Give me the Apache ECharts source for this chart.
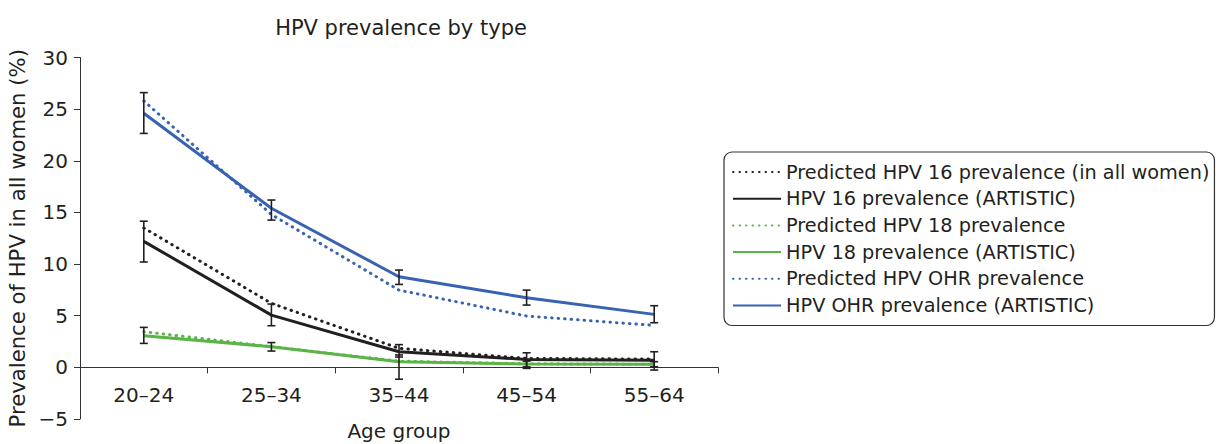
<!DOCTYPE html>
<html><head><meta charset="utf-8">
<script src="https://cdn.jsdelivr.net/npm/echarts@6/dist/echarts.min.js"></script>
<style>html,body{margin:0;padding:0;background:#fff}#c{width:1216px;height:444px}</style>
</head><body><div id="c"></div>
<script>
const categories = ['20–24', '25–34', '35–44', '45–54', '55–64'];
const seriesNames = [
  'Predicted HPV 16 prevalence (in all women)',
  'HPV 16 prevalence (ARTISTIC)',
  'Predicted HPV 18 prevalence',
  'HPV 18 prevalence (ARTISTIC)',
  'Predicted HPV OHR prevalence',
  'HPV OHR prevalence (ARTISTIC)'
];
const pred16 = [13.5, 6.2, 1.84, 0.87, 0.8];
const art16 = [12.2, 5.06, 1.51, 0.77, 0.7];
const art16Low = [10.2, 4.03, 1.0, -0.1, -0.26];
const art16High = [14.15, 6.13, 2.2, 1.41, 1.51];
const pred18 = [3.45, 2.0, 0.6, 0.35, 0.3];
const art18 = [3.06, 2.0, 0.54, 0.32, 0.29];
const art18Low = [2.32, 1.58, -1.15, 0.05, 0.05];
const art18High = [3.87, 2.4, 1.2, 0.6, 0.55];
const predOHR = [25.8, 14.8, 7.48, 4.97, 4.06];
const artOHR = [24.6, 15.4, 8.77, 6.74, 5.13];
const artOHRLow = [22.65, 14.26, 8.03, 6.03, 4.32];
const artOHRHigh = [26.6, 16.2, 9.42, 7.48, 5.97];
const yTicks = {min: -5, max: 30, interval: 5};

const BLACK = '#231f20', GREEN = '#5bb446', BLUE = '#3763b2';
const FONT = 'DejaVu Sans';

function errSeries(low, high) {
  return {
    type: 'custom',
    silent: true,
    z: 5,
    data: low.map((l, i) => [i, l, high[i]]),
    renderItem: function (params, api) {
      const x = api.value(0);
      const p1 = api.coord([x, api.value(1)]);
      const p2 = api.coord([x, api.value(2)]);
      const hw = 4;
      const st = {stroke: BLACK, lineWidth: 1.6};
      return {type: 'group', children: [
        {type: 'line', shape: {x1: p1[0], y1: p1[1], x2: p2[0], y2: p2[1]}, style: st},
        {type: 'line', shape: {x1: p1[0]-hw, y1: p1[1], x2: p1[0]+hw, y2: p1[1]}, style: st},
        {type: 'line', shape: {x1: p2[0]-hw, y1: p2[1], x2: p2[0]+hw, y2: p2[1]}, style: st}
      ]};
    }
  };
}
function lineSeries(name, data, color, dotted) {
  return {
    name: name, type: 'line', data: data, symbol: 'none', showSymbol: false,
    lineStyle: dotted ? {color: color, width: 3, type: [0.5, 6], cap: 'round'} : {color: color, width: 3},
    itemStyle: {color: color},
    z: dotted ? 3 : 2
  };
}

const chart = echarts.init(document.getElementById('c'), null, {renderer: 'svg'});
chart.setOption({
  animation: false,
  title: {
    text: 'HPV prevalence by type', left: 401, top: 17, textAlign: 'center', padding: 0,
    textStyle: {fontFamily: FONT, fontSize: 21, fontWeight: 'normal', color: BLACK}
  },
  legend: {
    data: seriesNames, orient: 'vertical', left: 724, top: 152,
    padding: [10, 5, 10, 8], itemWidth: 48, itemHeight: 14, itemGap: 6.7,
    borderColor: '#333', borderWidth: 1.2, borderRadius: 8,
    itemStyle: {opacity: 0},
    textStyle: {fontFamily: FONT, fontSize: 19.3, lineHeight: 20, color: BLACK}
  },
  grid: {left: 80, top: 57.5, width: 638, height: 361.5, outerBoundsMode: 'none', containLabel: false},
  xAxis: {
    type: 'category', data: categories, boundaryGap: true,
    name: 'Age group', nameLocation: 'middle', nameGap: 2, nameMoveOverlap: false,
    nameTextStyle: {fontFamily: FONT, fontSize: 20, color: BLACK},
    axisLine: {show: true, onZero: true, lineStyle: {color: '#333', width: 1}},
    axisTick: {show: true, length: 6, alignWithLabel: false, lineStyle: {color: '#333'}},
    axisLabel: {fontFamily: FONT, fontSize: 20, color: BLACK, margin: -34}
  },
  yAxis: {
    type: 'value', min: yTicks.min, max: yTicks.max, interval: yTicks.interval,
    name: 'Prevalence of HPV in all women (%)', nameLocation: 'middle', nameGap: 42,
    nameTextStyle: {fontFamily: FONT, fontSize: 21.2, color: BLACK},
    axisLine: {show: true, onZero: false, lineStyle: {color: '#333', width: 1}},
    axisTick: {show: true, length: 6, lineStyle: {color: '#333'}},
    splitLine: {show: false},
    axisLabel: {fontFamily: FONT, fontSize: 20, color: BLACK, margin: 12,
      formatter: v => String(v).replace('-', '−')}
  },
  series: [
    lineSeries(seriesNames[0], pred16, BLACK, true),
    lineSeries(seriesNames[1], art16, BLACK, false),
    lineSeries(seriesNames[2], pred18, GREEN, true),
    lineSeries(seriesNames[3], art18, GREEN, false),
    lineSeries(seriesNames[4], predOHR, BLUE, true),
    lineSeries(seriesNames[5], artOHR, BLUE, false),
    errSeries(art16Low, art16High),
    errSeries(art18Low, art18High),
    errSeries(artOHRLow, artOHRHigh)
  ]
});
</script></body></html>
